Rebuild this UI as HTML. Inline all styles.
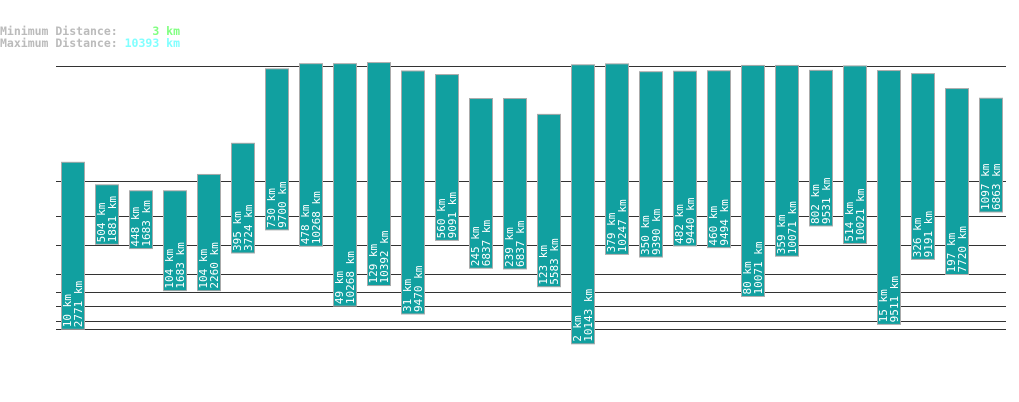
<!DOCTYPE html>
<html><head><meta charset="utf-8"><style>
body{margin:0;background:#fff;width:1019px;height:402px;overflow:hidden}
svg{display:block}
text{font-family:"DejaVu Sans Mono","Liberation Mono",monospace}
</style></head><body>
<svg id="chart" width="1019" height="402" xmlns="http://www.w3.org/2000/svg">
<g font-size="11.5" font-weight="bold">
<text x="0" y="35" fill="#bbbbbb" xml:space="preserve">Minimum Distance:     <tspan fill="#80ff80">3 km</tspan></text>
<text x="0" y="47" fill="#bbbbbb" xml:space="preserve">Maximum Distance: <tspan fill="#80ffff">10393 km</tspan></text>
</g>
<g id="grid"></g>
<g id="bars"></g>
</svg>
<script>
const mins=[10,504,448,104,104,395,730,478,49,129,31,560,245,239,123,2,379,350,482,460,80,359,802,514,15,326,197,1097];
const maxs=[2771,1881,1683,1683,2260,3724,9700,10268,10268,10392,9470,9091,6837,6837,5583,10143,10247,9390,9440,9494,10071,10071,9531,10021,9511,9191,7720,6863];
const gridVals=[10000,2000,1000,500,200,100,50,20,10];
const NS="http://www.w3.org/2000/svg";
function y(v){return 367.2-19.0*Math.pow(v,0.3);}
function x(i){return 61+i*34;}
const grid=document.getElementById('grid');
gridVals.forEach(v=>{
 const l=document.createElementNS(NS,'line');
 
 
 l.setAttribute('x1',56);l.setAttribute('x2',1006);
 l.setAttribute('y1',Math.round(y(v))+0.5);l.setAttribute('y2',Math.round(y(v))+0.5);
 l.setAttribute('stroke','#333');l.setAttribute('stroke-width','1');
 grid.appendChild(l);
});
const bars=document.getElementById('bars');
mins.forEach((mn,i)=>{
 const mx=maxs[i];
 const g=document.createElementNS(NS,'g');
 
 
 const r=document.createElementNS(NS,'rect');
 
 
 const top=y(mx),bot=y(mn);
 r.setAttribute('x',x(i)+0.5);r.setAttribute('y',top);
 r.setAttribute('width',23);r.setAttribute('height',bot-top);
 r.setAttribute('fill','#11a0a0');r.setAttribute('stroke','#aaaaaa');r.setAttribute('stroke-width','1');
 g.appendChild(r);
 [[mn+' km',x(i)+10],[mx+' km',x(i)+21]].forEach(([s,tx])=>{
  const t=document.createElementNS(NS,'text');
  
  
  t.setAttribute('x',tx);t.setAttribute('y',bot-2);
  t.setAttribute('transform','rotate(-90 '+tx+' '+(bot-2)+')');
  t.setAttribute('fill','#ffffff');t.setAttribute('font-size','11');
  t.textContent=s;
  g.appendChild(t);
 });
 bars.appendChild(g);
});
</script>
</body></html>
